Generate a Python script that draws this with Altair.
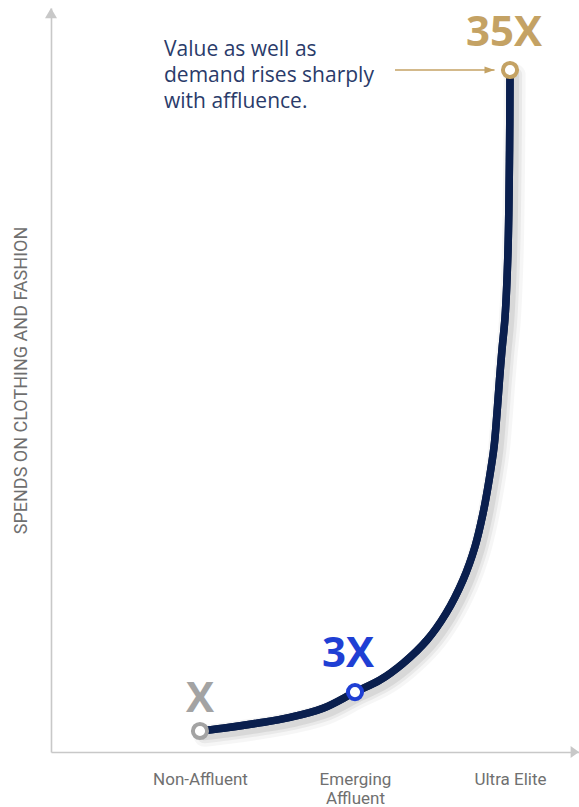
import altair as alt
import pandas as pd

# Affluence tiers along the horizontal axis
tiers = ["Non-Affluent", "Emerging Affluent", "Ultra Elite"]
tier_pos = [0, 1, 2]

# Spend multiples at each tier
multiples = [1, 3, 35]
multiple_labels = ["X", "3X", "35X"]
marker_colors = ["#a3a3a3", "#1f3fd4", "#c4a264"]

# Spend curve traced across the tiers (0 = Non-Affluent, 1 = Emerging, 2 = Ultra Elite)
curve_pos = [0.0, 0.148, 0.368, 0.581, 0.794, 1.0, 1.161, 1.310, 1.465, 1.587,
             1.697, 1.774, 1.826, 1.865, 1.897, 1.916, 1.932, 1.948, 1.968,
             1.987, 1.997, 2.0]
curve_spend = [1.0, 1.14, 1.40, 1.70, 2.17, 3.0, 3.62, 4.48, 5.68, 7.05,
               8.77, 10.48, 12.20, 13.91, 15.62, 17.36, 19.06, 20.60, 22.30,
               25.74, 30.89, 35.0]

annotation = "Value as well as\ndemand rises sharply\nwith affluence."

X_DOMAIN = [-0.961, 2.445]
Y_DOMAIN = [-0.08, 38.19]

NAVY = "#0a1f4e"
GOLD = "#c4a264"
AXIS_GREY = "#c8c8c8"
FONT = "Open Sans"

curve = pd.DataFrame({"pos": curve_pos, "spend": curve_spend,
                      "step": list(range(len(curve_pos)))})
points = pd.DataFrame({"pos": tier_pos, "spend": multiples,
                       "label": multiple_labels, "color": marker_colors})

x_scale = alt.Scale(domain=X_DOMAIN, nice=False, zero=False)
y_scale = alt.Scale(domain=Y_DOMAIN, nice=False, zero=False)

label_expr = ("datum.value == 0 ? '{0}' : datum.value == 1 ? ['{1}', '{2}'] : '{3}'"
              .format(tiers[0], *tiers[1].split(" "), tiers[2]))

x_enc = alt.X("pos:Q", scale=x_scale, title=None,
              axis=alt.Axis(values=tier_pos, labelExpr=label_expr, ticks=False,
                            grid=False, domainColor=AXIS_GREY, domainWidth=1.6,
                            labelFont="Roboto", labelFontSize=17,
                            labelColor="#707070", labelPadding=32,
                            labelLineHeight=19, labelBaseline="alphabetic"))
y_enc = alt.Y("spend:Q", scale=y_scale,
              title="SPENDS ON CLOTHING AND FASHION",
              axis=alt.Axis(labels=False, ticks=False, grid=False,
                            domainColor=AXIS_GREY, domainWidth=1.6,
                            titleFont="Roboto", titleFontSize=18,
                            titleFontWeight="normal", titleColor="#6f6f6f",
                            titlePadding=21))

base = alt.Chart(curve)

# soft drop shadow under the curve
shadow_layers = []
for width, alpha in [(22, 0.035), (15, 0.05), (9, 0.07)]:
    shadow_layers.append(
        base.transform_calculate(sx="datum.pos + 0.03", sy="datum.spend - 0.25")
        .mark_line(interpolate="catmull-rom", color="#000000", opacity=alpha,
                   strokeWidth=width, strokeCap="round")
        .encode(x=alt.X("sx:Q", scale=x_scale), y=alt.Y("sy:Q", scale=y_scale),
                order="step:Q")
    )

line = base.mark_line(interpolate="catmull-rom", color=NAVY, strokeWidth=7.5,
                      strokeCap="round").encode(x=x_enc, y=y_enc, order="step:Q")

markers = alt.Chart(points).mark_point(filled=False, fill="white", fillOpacity=1,
                                       size=200, strokeWidth=4, opacity=1).encode(
    x=alt.X("pos:Q", scale=x_scale),
    y=alt.Y("spend:Q", scale=y_scale),
    stroke=alt.Color("color:N", scale=None),
)

# value labels above each marker
label_offsets = {"X": (0, -19), "3X": (-7, -25), "35X": (-6, -24)}
value_labels = []
for lab, col in zip(multiple_labels, marker_colors):
    dx, dy = label_offsets[lab]
    value_labels.append(
        alt.Chart(points).transform_filter(alt.datum.label == lab)
        .mark_text(font=FONT, fontSize=42, fontWeight="bold", color=col,
                   align="center", baseline="alphabetic", dx=dx, dy=dy)
        .encode(x=alt.X("pos:Q", scale=x_scale), y=alt.Y("spend:Q", scale=y_scale),
                text="label:N")
    )

# axis arrowheads at the far ends of both axes
arrow_heads = pd.DataFrame({
    "pos": [X_DOMAIN[0], X_DOMAIN[1]],
    "spend": [Y_DOMAIN[1], Y_DOMAIN[0]],
    "shape": ["M0,0L-1,1.7L1,1.7Z", "M0,0L-1.4,-1L-1.4,1Z"],
})
axis_arrows = alt.Chart(arrow_heads).mark_point(filled=True, size=144, opacity=1,
                                                color=AXIS_GREY, strokeWidth=0).encode(
    x=alt.X("pos:Q", scale=x_scale),
    y=alt.Y("spend:Q", scale=y_scale),
    shape=alt.Shape("shape:N", scale=None),
)

# callout pointing at the Ultra Elite marker
callout = pd.DataFrame({"pos": [-0.232], "spend": [35.72], "text": [annotation],
                        "start": [1.258], "end": [1.9], "level": [35.0]})
callout_text = alt.Chart(callout).mark_text(
    font=FONT, fontSize=21, color="#2a3b6a", align="left", baseline="alphabetic",
    lineBreak="\n", lineHeight=25.8).encode(
    x=alt.X("pos:Q", scale=x_scale), y=alt.Y("spend:Q", scale=y_scale), text="text:N")
callout_rule = alt.Chart(callout).mark_rule(color=GOLD, strokeWidth=1.6).encode(
    x=alt.X("start:Q", scale=x_scale), x2="end:Q", y=alt.Y("level:Q", scale=y_scale))
callout_head = alt.Chart(callout).mark_point(
    filled=True, size=100, opacity=1, color=GOLD, strokeWidth=0,
    shape="M0,0L-2,-0.7L-2,0.7Z").encode(
    x=alt.X("end:Q", scale=x_scale), y=alt.Y("level:Q", scale=y_scale))

chart = alt.layer(
    line, *shadow_layers, line, axis_arrows, callout_rule, callout_head,
    callout_text, markers, *value_labels
).properties(
    width=528, height=744,
    padding={"left": 51, "top": 8, "right": 0, "bottom": 55},
    autosize=alt.AutoSizeParams(type="none"),
    background="white",
).configure_view(stroke=None)

chart.save("out.html", embed_options={"renderer": "svg", "actions": False})
